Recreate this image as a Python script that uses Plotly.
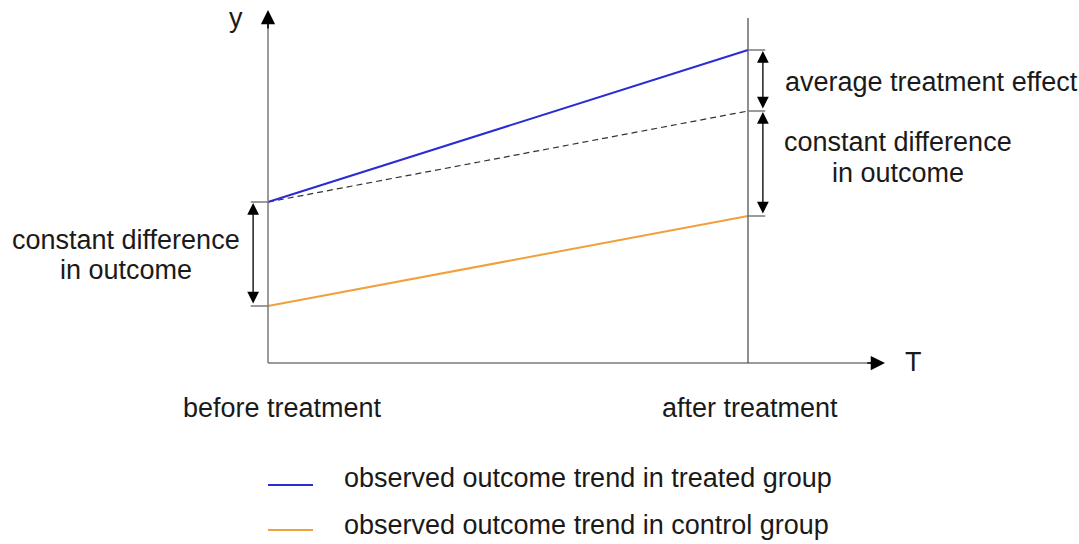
import plotly.graph_objects as go

# ---- data (time: 0 = before treatment, 1 = after treatment; outcome in arbitrary units)
periods = [0, 1]
period_labels = ["before treatment", "after treatment"]
treated = [16.1, 31.3]
control = [5.7, 14.7]
counterfactual = [16.1, 25.2]   # treated start + control trend
legend_labels = ["observed outcome trend in treated group",
                 "observed outcome trend in control group"]
diff_lines = ["constant difference", "in outcome"]

BLUE = "#2b2bd3"
ORANGE = "#f0a03c"
GRAY = "#7a7a7a"
TXT = "#1a1a1a"
FONT = "Liberation Sans, Arial, sans-serif"
FS = 27

W, H = 1079, 544
# plot area spans full figure; pixel mapping chosen so that x=0 -> px 268, x=1 -> px 748
x_range = [-268 / 480, (W - 268) / 480]
y_range = [(363 - H) / 10, 363 / 10]

fig = go.Figure()

fig.add_trace(go.Scatter(x=periods, y=counterfactual, mode="lines",
                         line=dict(color="#333333", width=1.2, dash="6px,4px"),
                         showlegend=False, hoverinfo="skip"))
fig.add_trace(go.Scatter(x=periods, y=control, mode="lines",
                         line=dict(color=ORANGE, width=2), name=legend_labels[1],
                         showlegend=False))
fig.add_trace(go.Scatter(x=periods, y=treated, mode="lines",
                         line=dict(color=BLUE, width=2), name=legend_labels[0],
                         showlegend=False))

shapes = []
# axes lines
y_top = 35.3
x_right = (885 - 268) / 480
shapes.append(dict(type="line", x0=0, x1=0, y0=0, y1=y_top - 1.2, xref="x", yref="y",
                   line=dict(color=GRAY, width=1.5)))
shapes.append(dict(type="line", x0=0, x1=x_right - 0.025, y0=0, y1=0, xref="x", yref="y",
                   line=dict(color=GRAY, width=1.5)))
# after-treatment vertical line
shapes.append(dict(type="line", x0=periods[1], x1=periods[1], y0=0, y1=34.5, xref="x", yref="y",
                   line=dict(color="#444444", width=1.2)))
# small level ticks
tick_len = 0.036
for v in [treated[0], control[0]]:
    shapes.append(dict(type="line", x0=-tick_len, x1=0, y0=v, y1=v, xref="x", yref="y",
                       line=dict(color=GRAY, width=1.5)))
for v in [treated[1], counterfactual[1], control[1]]:
    shapes.append(dict(type="line", x0=1, x1=1 + tick_len, y0=v, y1=v, xref="x", yref="y",
                       line=dict(color=GRAY, width=1.5)))
# legend line samples (paper coords)
for i, c in enumerate([BLUE, ORANGE]):
    ypx = 485 + 45 * i
    shapes.append(dict(type="line", xref="paper", yref="paper",
                       x0=268 / W, x1=313 / W, y0=1 - ypx / H, y1=1 - ypx / H,
                       line=dict(color=c, width=2)))

ann = []
# axis arrowheads
ann.append(dict(x=0, y=y_top, ax=0, ay=y_top - 2.0, xref="x", yref="y", axref="x", ayref="y",
                text="", showarrow=True, arrowhead=2, arrowsize=1.9, arrowwidth=1.5,
                arrowcolor="black", standoff=0))
ann.append(dict(x=x_right, y=0, ax=x_right - 0.04, ay=0, xref="x", yref="y", axref="x", ayref="y",
                text="", showarrow=True, arrowhead=2, arrowsize=1.9, arrowwidth=1.5,
                arrowcolor="black", standoff=0))


def double_arrow(x, y0, y1):
    ann.append(dict(x=x, y=y1, ax=x, ay=y0, xref="x", yref="y", axref="x", ayref="y",
                    text="", showarrow=True, arrowhead=2, startarrowhead=2,
                    arrowside="end+start", arrowsize=1.8, startarrowsize=1.8,
                    arrowwidth=1.3, arrowcolor="black", standoff=1, startstandoff=1))


double_arrow(-0.031, control[0], treated[0])
double_arrow(1.031, counterfactual[1], treated[1])
double_arrow(1.031, control[1], counterfactual[1])


def label(text, x, y, xanchor="center", xref="x", yref="y"):
    ann.append(dict(text=text, x=x, y=y, xref=xref, yref=yref, xanchor=xanchor,
                    yanchor="middle", showarrow=False, align="center",
                    font=dict(family=FONT, size=FS, color=TXT)))


label("y", -0.0667, 34.5)
label("T", (913 - 268) / 480, 0.1)
for p, t in zip(periods, period_labels):
    label(t, p + (0.031 if p == 0 else 0.004), -4.5)
label("average treatment effect", (783 - 268) / 480, 28.1, xanchor="left")
# two-line labels, line by line (tighter leading than plotly's <br>)
for j, t in enumerate(diff_lines):
    label(t, (898 - 268) / 480, (363 - (142 + 31 * j)) / 10)
    label(t, (126 - 268) / 480, (363 - (240 + 30 * j)) / 10)
for i, t in enumerate(legend_labels):
    ypx = 478 + 47 * i
    ann.append(dict(text=t, x=342 / W, y=1 - ypx / H, xref="paper", yref="paper",
                    xanchor="left", yanchor="middle", showarrow=False,
                    font=dict(family=FONT, size=FS, color=TXT)))

fig.update_layout(
    width=W, height=H, autosize=False,
    margin=dict(l=0, r=0, t=0, b=0),
    paper_bgcolor="white", plot_bgcolor="white",
    xaxis=dict(range=x_range, visible=False, fixedrange=True),
    yaxis=dict(range=y_range, visible=False, fixedrange=True),
    shapes=shapes, annotations=ann, showlegend=False,
)

fig.write_html("out.html", config={"displayModeBar": False},
               post_script="document.body.style.margin='0';")
